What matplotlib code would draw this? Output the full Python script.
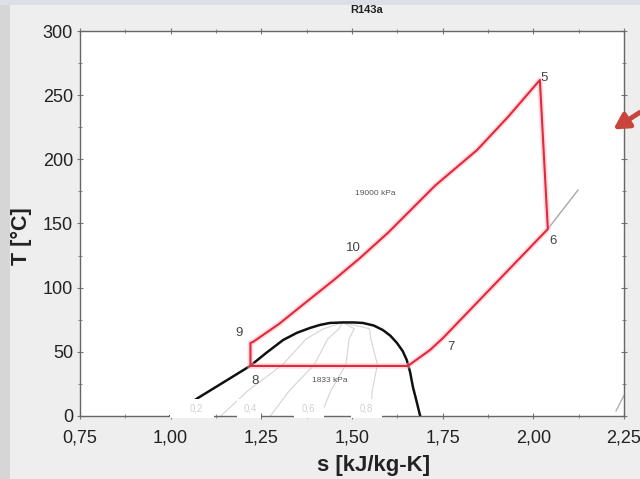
import matplotlib
matplotlib.use("Agg")
import matplotlib.pyplot as plt
from matplotlib.patches import Rectangle
from matplotlib.ticker import MultipleLocator, FuncFormatter

plt.rcParams['font.family'] = ['Liberation Sans', 'DejaVu Sans']

# Saturation dome (s in kJ/kg-K, T in C)
dome_s = [1.00, 1.075, 1.150, 1.219, 1.265, 1.310, 1.348, 1.384, 1.412, 1.439, 1.475, 1.505,
          1.530, 1.560, 1.585, 1.606, 1.624, 1.640, 1.651, 1.660, 1.668, 1.678, 1.688]
dome_T = [0.0, 14.0, 27.0, 39.0, 49.5, 59.2, 64.8, 68.6, 71.0, 72.5, 72.9, 72.9,
          72.5, 70.5, 67.0, 62.5, 56.9, 50.5, 43.6, 34.5, 22.6, 11.5, 0.0]

# Quality lines
q_T = [0.0, 20.0, 40.0, 60.0, 68.0, 72.9]
q02_s = [1.138, 1.214, 1.309, 1.373, 1.422, 1.475]
q04_s = [1.275, 1.328, 1.396, 1.433, 1.464, 1.475]
q06_s = [1.413, 1.442, 1.483, 1.492, 1.506, 1.475]
q08_s = [1.550, 1.556, 1.570, 1.552, 1.548, 1.475]
q_labels = ["0,2", "0,4", "0,6", "0,8"]
q_label_s = [1.07, 1.22, 1.38, 1.54]
# white masks behind the quality labels (s-ranges where the axis line is hidden)
mask_lo = [0.998, 1.183, 1.340, 1.497]
mask_hi = [1.119, 1.249, 1.423, 1.583]

# Cycle path 8 -> 9 -> ... -> 5 -> 6 -> 7 -> sat vapour -> 8
cyc_s = [1.220, 1.220, 1.227, 1.300, 1.357, 1.450, 1.522, 1.600, 1.729, 1.845, 1.930, 2.018,
         2.040, 1.751, 1.715, 1.654, 1.220]
cyc_T = [39.0, 56.9, 57.7, 72.0, 85.0, 106.0, 123.1, 143.0, 179.5, 207.3, 233.0, 261.8,
         145.7, 60.8, 51.4, 39.0, 39.0]

# Isobar extension beyond state 6
ext_s = [2.040, 2.123]
ext_T = [145.7, 176.0]

# State labels
state_names = ["5", "6", "7", "8", "9", "10"]
state_s = [2.030, 2.055, 1.772, 1.232, 1.188, 1.505]
state_T = [263.0, 136.0, 53.5, 27.0, 65.0, 131.0]

press_labels = ["19000 kPa", "1833 kPa"]
press_s = [1.563, 1.439]
press_T = [173.0, 28.0]

fig = plt.figure(figsize=(6.4, 4.79), dpi=100, facecolor='#eeeeee')
fig.patches.append(Rectangle((0, 0), 10 / 640, 1, transform=fig.transFigure,
                             facecolor='#d6d6d6', edgecolor='none', zorder=0))
fig.patches.append(Rectangle((0, 1 - 5 / 479), 1, 5 / 479, transform=fig.transFigure,
                             facecolor='#dcdfe3', edgecolor='none', zorder=0))

ax = fig.add_axes([80 / 640, 1 - 416 / 479, 544 / 640, 385 / 479])
ax.set_facecolor('white')
ax.set_xlim(0.75, 2.25)
ax.set_ylim(0, 300)

for qs in (q02_s, q04_s, q06_s, q08_s):
    ax.plot(qs, q_T, color='#d4d4d4', lw=0.8, zorder=2)

ax.plot(dome_s, dome_T, color='#111111', lw=1.8, zorder=3, solid_joinstyle='round')
ax.plot(ext_s, ext_T, color='#a8a8a8', lw=1.0, zorder=2)
ax.plot([2.228, 2.25], [4, 16], color='#b0b0b0', lw=1.0, zorder=2)
ax.plot(cyc_s, cyc_T, color='#f7b8c0', lw=4, alpha=0.5, zorder=3)
ax.plot(cyc_s, cyc_T, color='#e3283c', lw=1.5, zorder=4)

for n, s, T in zip(state_names, state_s, state_T):
    ax.text(s, T, n, fontsize=9.5, color='#444444', ha='center', va='center', zorder=6)
for n, s, T in zip(press_labels, press_s, press_T):
    ax.text(s, T, n, fontsize=6, color='#555555', ha='center', va='center', zorder=6)

for lo, hi in zip(mask_lo, mask_hi):
    ax.add_patch(Rectangle((lo, -1.3), hi - lo, 14.5, facecolor='white', edgecolor='none',
                           zorder=9, clip_on=False))
for lab, s in zip(q_labels, q_label_s):
    ax.text(s, 6, lab, fontsize=7, color='#d0d0d0', ha='center', va='center', zorder=10,
            clip_on=False)

ax.xaxis.set_major_locator(MultipleLocator(0.25))
ax.xaxis.set_minor_locator(MultipleLocator(0.125))
ax.yaxis.set_major_locator(MultipleLocator(50))
ax.yaxis.set_minor_locator(MultipleLocator(25))
ax.xaxis.set_major_formatter(FuncFormatter(lambda v, p: f"{v:.2f}".replace('.', ',')))
ax.tick_params(which='both', direction='inout', top=True, right=True, color='#777777')
ax.tick_params(which='major', length=4, labelsize=13, labelcolor='#222222')
ax.tick_params(axis='x', which='major', pad=8)
ax.tick_params(axis='y', which='major', pad=3)
ax.tick_params(which='minor', length=3)
for sp in ax.spines.values():
    sp.set_color('#666666')
    sp.set_linewidth(1.0)

ax.text((367 - 80) / 544, 1 + 21 / 385, "R143a", transform=ax.transAxes, fontsize=8,
        fontweight='bold', color='#222222', ha='center', va='center')
ax.set_xlabel("s [kJ/kg-K]", fontsize=16, fontweight='bold', color='#222222')
ax.xaxis.set_label_coords((374 - 80) / 544, -(465 - 416) / 385)
ax.xaxis.label.set_va('center')
ax.set_ylabel("T [°C]", fontsize=15.5, fontweight='bold', color='#222222')
ax.yaxis.set_label_coords(-(80 - 21) / 544, (416 - 236) / 385)
ax.yaxis.label.set_va('center')

ax.annotate("", xy=(611 / 640, 1 - 131 / 479), xytext=(642 / 640, 1 - 111 / 479),
            xycoords='figure fraction', textcoords='figure fraction',
            arrowprops=dict(arrowstyle='-|>,head_length=0.9,head_width=0.5',
                            color='#c9443c', lw=3.5), zorder=20)

fig.savefig("out.png", dpi=100, facecolor=fig.get_facecolor())
